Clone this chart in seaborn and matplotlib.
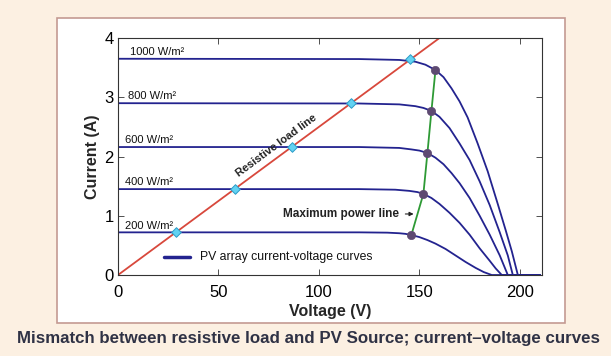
import numpy as np
import pandas as pd
import matplotlib
matplotlib.use('Agg')
import matplotlib.pyplot as plt
from matplotlib.patches import Rectangle
import seaborn as sns

# values
irradiance = ['1000 W/m²', '800 W/m²', '600 W/m²', '400 W/m²', '200 W/m²']

v_1000 = [0, 120, 140, 148, 153, 158, 162, 166, 170, 174, 179, 184, 189, 193, 196, 199, 210]
i_1000 = [3.65, 3.645, 3.63, 3.60, 3.55, 3.46, 3.34, 3.15, 2.93, 2.66, 2.22, 1.75, 1.20, 0.75, 0.40, 0, 0]

v_800 = [0, 120, 140, 148, 152, 156, 160, 165, 170, 175, 180, 185, 190, 194, 196.5, 210]
i_800 = [2.90, 2.895, 2.88, 2.85, 2.82, 2.77, 2.67, 2.48, 2.22, 1.94, 1.58, 1.18, 0.72, 0.33, 0, 0]

v_600 = [0, 120, 140, 146, 150, 154, 158, 162, 166, 170, 175, 180, 185, 190, 194, 210]
i_600 = [2.16, 2.16, 2.145, 2.12, 2.10, 2.06, 1.98, 1.87, 1.72, 1.55, 1.30, 1.00, 0.68, 0.33, 0, 0]

v_400 = [0, 120, 138, 145, 149, 152, 156, 160, 165, 170, 175, 180, 185, 188, 191, 210]
i_400 = [1.45, 1.45, 1.44, 1.42, 1.40, 1.37, 1.30, 1.20, 1.05, 0.88, 0.68, 0.45, 0.24, 0.11, 0, 0]

v_200 = [0, 120, 134, 140, 143, 146, 150, 154, 158, 163, 168, 173, 178, 182, 186, 210]
i_200 = [0.72, 0.72, 0.715, 0.705, 0.695, 0.675, 0.64, 0.59, 0.53, 0.44, 0.33, 0.22, 0.12, 0.05, 0, 0]

# resistive load line
load_v = [0, 160]
load_i = [0, 4]

# operating points on the load line
op_v = [145.5, 116, 86.4, 58, 28.8]
op_i = [3.64, 2.90, 2.16, 1.45, 0.72]

# maximum power points
mpp_v = [158, 156, 154, 152, 146]
mpp_i = [3.46, 2.77, 2.06, 1.37, 0.675]

label_v = [6, 5, 3.5, 3.5, 3.5]

curves = [(v_1000, i_1000), (v_800, i_800), (v_600, i_600), (v_400, i_400), (v_200, i_200)]
rows = []
for name, (vv, ii) in zip(irradiance, curves):
    for k, (a, b) in enumerate(zip(vv, ii)):
        rows.append({'irr': name, 'order': k, 'V': a, 'I': b})
df = pd.DataFrame(rows)

sns.set_theme(style='ticks')
plt.rcParams['font.family'] = ['Liberation Sans', 'DejaVu Sans']
plt.rcParams['xtick.direction'] = 'in'
plt.rcParams['ytick.direction'] = 'in'

navy = '#23238f'
fig = plt.figure(figsize=(6.11, 3.56), dpi=100)
fig.patch.set_facecolor('#fcf0e2')

# white panel behind the chart
bg = fig.add_axes([0, 0, 1, 1], zorder=-1)
bg.set_axis_off()
bg.set_xlim(0, 1)
bg.set_ylim(0, 1)
bg.add_patch(Rectangle((0.0933, 0.0927), 0.8314, 0.856, facecolor='white',
                       edgecolor='#c49a92', linewidth=1.2))

ax = fig.add_axes([0.1931, 0.2275, 0.6939, 0.6657])
ax.set_facecolor('white')

sns.lineplot(data=df, x='V', y='I', units='irr', estimator=None, sort=False,
             color=navy, linewidth=1.3, ax=ax, legend=False)
sns.lineplot(x=load_v, y=load_i, color='#d8483c', linewidth=1.3, ax=ax, legend=False)
sns.lineplot(x=mpp_v, y=mpp_i, color='#2e9a35', linewidth=1.3, sort=False, ax=ax, legend=False)
sns.scatterplot(x=mpp_v, y=mpp_i, color='#5e4a72', s=36, edgecolor='#5e4a72', zorder=5, ax=ax)
sns.scatterplot(x=op_v, y=op_i, marker='D', color='#62d2f2', s=24, edgecolor='#2c9cc8',
                linewidth=0.7, zorder=5, ax=ax)

for name, ii, lv in zip(irradiance, [c[1] for c in curves], label_v):
    ax.text(lv, ii[0] + 0.03, name, fontsize=8, color='#111111', ha='left', va='bottom')

ax.text(79, 2.18, 'Resistive load line', fontsize=8, fontweight='bold', color='#222222',
        rotation=36.5, ha='center', va='center', rotation_mode='anchor')
ax.annotate('Maximum power line', xy=(148.5, 1.03), xytext=(140, 1.03), fontsize=8.5,
            fontweight='bold', color='#222222', ha='right', va='center',
            arrowprops=dict(arrowstyle='-|>', color='#222222', lw=0.8, mutation_scale=6))

ax.plot([23, 36], [0.3, 0.3], color=navy, linewidth=2.5)
ax.text(41, 0.3, 'PV array current-voltage curves', fontsize=8.8, color='#111111',
        ha='left', va='center')

ax.set_xlim(0, 211)
ax.set_ylim(0, 4)
ax.set_xticks([0, 50, 100, 150, 200])
ax.set_yticks([0, 1, 2, 3, 4])
ax.tick_params(axis='both', labelsize=12, length=4, width=0.6, colors='#333333',
               labelcolor='black', top=True, right=True, pad=3)
ax.tick_params(axis='x', pad=7)
for sp in ax.spines.values():
    sp.set_visible(True)
    sp.set_linewidth(0.8)
    sp.set_color('#333333')
ax.set_xlabel('Voltage (V)', fontsize=11.5, fontweight='bold', labelpad=3)
ax.set_ylabel('Current (A)', fontsize=11.5, fontweight='bold', labelpad=3)

fig.text(0.505, 0.05, 'Mismatch between resistive load and PV Source; current\u2013voltage curves',
         fontsize=12.2, fontweight='bold', color='#2f3245', ha='center', va='center')

fig.savefig('out.png', dpi=100, facecolor=fig.get_facecolor())
